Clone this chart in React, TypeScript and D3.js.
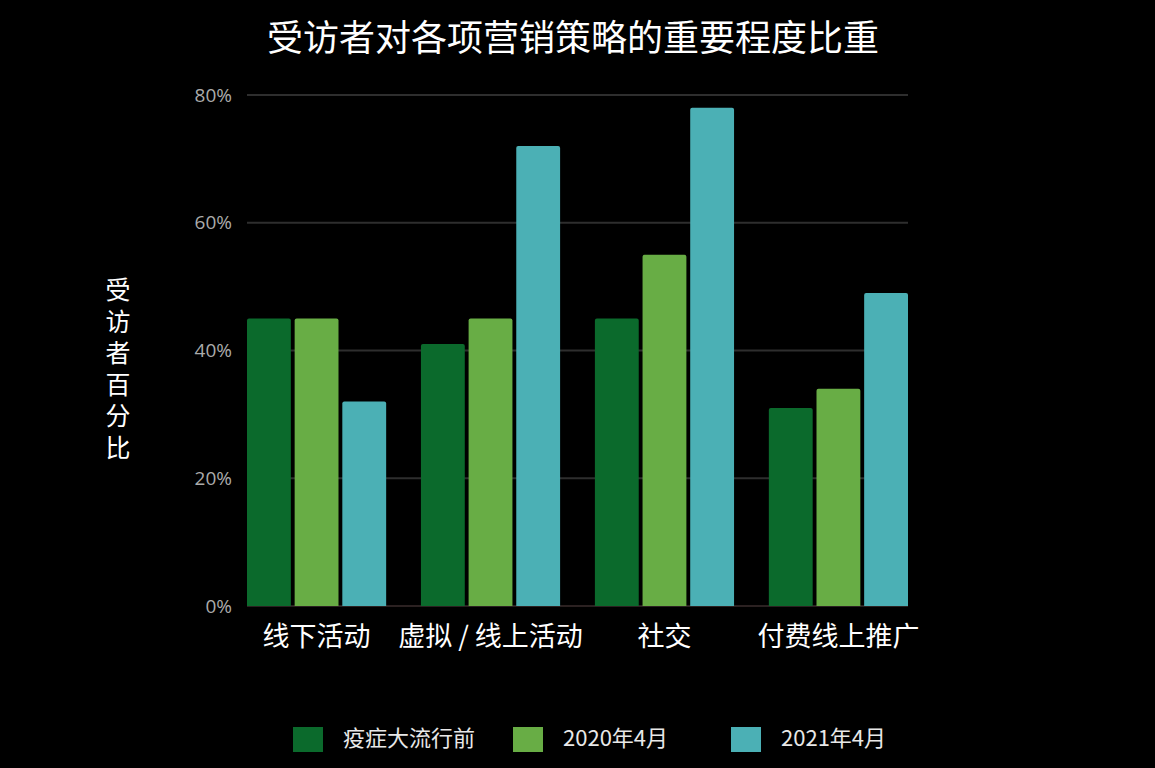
import React from "react";
import * as d3 from "d3";

const categories = ["线下活动", "虚拟 / 线上活动", "社交", "付费线上推广"];
const seriesNames = ["疫症大流行前", "2020年4月", "2021年4月"];
const prePandemic = [45, 41, 45, 31];
const april2020 = [45, 45, 55, 34];
const april2021 = [32, 72, 78, 49];
const yTicks = [0, 20, 40, 60, 80];
const colors = ["#0b6a2c", "#68ad45", "#4bb0b5"];
const yTitle = "受访者百分比";
const title = "受访者对各项营销策略的重要程度比重";

const W = 1155;
const H = 768;
const left = 247;
const right = 908;
const top = 95;
const bottom = 606;

export default function App() {
  const series = [prePandemic, april2020, april2021];
  const x0 = d3.scaleBand<string>().domain(categories).range([left, right]).paddingInner(0.2).paddingOuter(0);
  const x1 = d3.scaleBand<number>().domain([0, 1, 2]).range([0, x0.bandwidth()]).paddingInner(0.08).paddingOuter(0);
  const y = d3.scaleLinear().domain([0, 80]).range([bottom, top]);
  const font = "'Noto Sans CJK SC', 'Noto Sans', sans-serif";

  const barPath = (x: number, yTop: number, w: number, h: number, r: number) => {
    const p = d3.path();
    p.moveTo(x, yTop + h);
    p.lineTo(x, yTop + r);
    p.quadraticCurveTo(x, yTop, x + r, yTop);
    p.lineTo(x + w - r, yTop);
    p.quadraticCurveTo(x + w, yTop, x + w, yTop + r);
    p.lineTo(x + w, yTop + h);
    p.closePath();
    return p.toString();
  };

  const legendX = [293, 513, 731];

  return (
    <svg width={W} height={H} style={{ position: "absolute", left: 0, top: 0, background: "#000" }}>
      <rect x={0} y={0} width={W} height={H} fill="#000" />
      <text x={573} y={51} textAnchor="middle" fill="#fff" fontSize={36} fontFamily={font}>{title}</text>
      {yTicks.map((t) => (
        <g key={t}>
          {t > 0 && <line x1={left} x2={right} y1={y(t)} y2={y(t)} stroke="#2e2e2e" strokeWidth={2} />}
          <text x={232} y={y(t)} dy="0.35em" textAnchor="end" fill="#ababab" fontSize={19} fontFamily="'Open Sans', sans-serif">{t}%</text>
        </g>
      ))}
      <line x1={left} x2={right} y1={bottom} y2={bottom} stroke="#3a2c2c" strokeWidth={1.5} />
      {categories.map((c, i) => (
        <g key={c}>
          {series.map((s, j) => {
            const bx = (x0(c) as number) + (x1(j) as number);
            return (
              <path key={j} d={barPath(bx, y(s[i]), x1.bandwidth(), bottom - y(s[i]), 2)} fill={colors[j]} />
            );
          })}
          <text x={(x0(c) as number) + x0.bandwidth() / 2} y={646} textAnchor="middle" fill="#fff" fontSize={27} fontFamily={font}>{c}</text>
        </g>
      ))}
      <text x={118} y={277} fill="#fff" fontSize={25} fontFamily={font} style={{ writingMode: "vertical-rl", letterSpacing: "6.5px" }}>{yTitle}</text>
      {seriesNames.map((n, j) => (
        <g key={n}>
          <rect x={legendX[j]} y={727} width={30} height={25} fill={colors[j]} />
          <text x={legendX[j] + 50} y={746} fill="#e8e8e8" fontSize={22} fontFamily={font}>{n}</text>
        </g>
      ))}
    </svg>
  );
}
